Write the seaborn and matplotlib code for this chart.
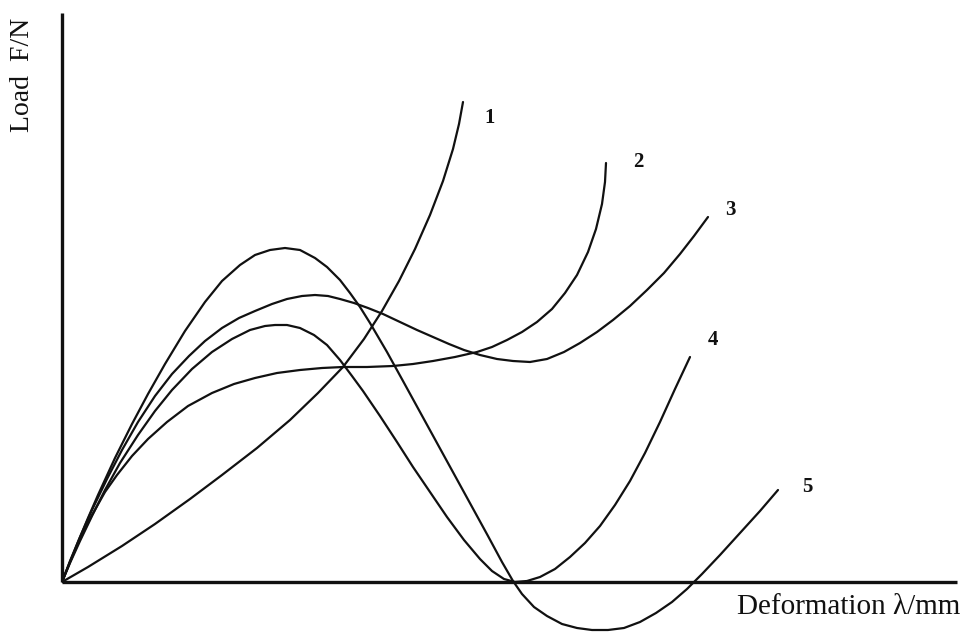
import matplotlib
matplotlib.use("Agg")
import matplotlib.pyplot as plt
import seaborn as sns
import pandas as pd

# Load-deformation curves (deformation in mm, load in N, schematic units)
c1_x = [0, 0.26, 0.60, 0.93, 1.28, 1.60, 1.95, 2.28, 2.56, 2.81, 3.02, 3.20, 3.37, 3.53, 3.68, 3.81, 3.91, 3.97, 4.01]
c1_y = [0, 0.15, 0.36, 0.58, 0.83, 1.07, 1.34, 1.62, 1.89, 2.15, 2.43, 2.71, 3.01, 3.33, 3.67, 4.01, 4.33, 4.58, 4.80]

c2_x = [0, 0.08, 0.18, 0.30, 0.43, 0.55, 0.70, 0.86, 1.05, 1.26, 1.50, 1.72, 1.93, 2.15, 2.38, 2.60, 2.81, 3.05,
        3.31, 3.51, 3.71, 3.93, 4.15, 4.30, 4.45, 4.60, 4.75, 4.90, 5.03, 5.15, 5.26, 5.34, 5.40, 5.43, 5.44]
c2_y = [0, 0.20, 0.43, 0.67, 0.90, 1.07, 1.26, 1.43, 1.60, 1.76, 1.89, 1.98, 2.04, 2.09, 2.12, 2.14, 2.15, 2.15,
        2.16, 2.18, 2.21, 2.25, 2.30, 2.35, 2.42, 2.50, 2.60, 2.73, 2.89, 3.07, 3.30, 3.53, 3.78, 4.00, 4.19]

c3_x = [0, 0.08, 0.18, 0.30, 0.45, 0.60, 0.76, 0.93, 1.10, 1.27, 1.43, 1.60, 1.77, 1.93, 2.10, 2.25, 2.40, 2.53,
        2.66, 2.78, 2.92, 3.06, 3.21, 3.38, 3.55, 3.71, 3.87, 4.02, 4.18, 4.35, 4.51, 4.68, 4.85, 5.02, 5.18,
        5.35, 5.51, 5.68, 5.85, 6.02, 6.18, 6.32, 6.46]
c3_y = [0, 0.21, 0.45, 0.72, 1.03, 1.32, 1.60, 1.86, 2.08, 2.26, 2.41, 2.54, 2.64, 2.71, 2.78, 2.83, 2.86, 2.87,
        2.86, 2.83, 2.79, 2.74, 2.68, 2.60, 2.52, 2.45, 2.38, 2.32, 2.27, 2.23, 2.21, 2.20, 2.23, 2.30, 2.39,
        2.50, 2.62, 2.76, 2.92, 3.09, 3.28, 3.46, 3.65]

c4_x = [0, 0.08, 0.18, 0.30, 0.43, 0.58, 0.76, 0.93, 1.10, 1.30, 1.50, 1.70, 1.88, 2.03, 2.13, 2.25, 2.38, 2.52,
        2.65, 2.78, 2.90, 3.01, 3.18, 3.35, 3.51, 3.68, 3.85, 4.02, 4.18, 4.30, 4.42, 4.53, 4.65, 4.78, 4.93,
        5.08, 5.23, 5.38, 5.53, 5.68, 5.83, 5.98, 6.13, 6.28]
c4_y = [0, 0.19, 0.41, 0.66, 0.92, 1.19, 1.47, 1.71, 1.92, 2.13, 2.30, 2.43, 2.52, 2.56, 2.57, 2.57, 2.54, 2.47,
        2.37, 2.22, 2.06, 1.91, 1.66, 1.40, 1.15, 0.90, 0.65, 0.42, 0.23, 0.11, 0.03, 0.0, 0.01, 0.05, 0.13,
        0.25, 0.39, 0.56, 0.77, 1.01, 1.29, 1.60, 1.93, 2.25]

c5_x = [0, 0.08, 0.16, 0.26, 0.36, 0.53, 0.70, 0.86, 1.03, 1.23, 1.43, 1.60, 1.78, 1.93, 2.08, 2.23, 2.38, 2.53,
        2.65, 2.78, 2.88, 2.98, 3.08, 3.25, 3.41, 3.58, 3.75, 3.92, 4.09, 4.26, 4.40, 4.51, 4.60, 4.72, 4.85,
        5.00, 5.15, 5.30, 5.46, 5.62, 5.78, 5.94, 6.10, 6.25, 6.40, 6.58, 6.78, 6.98, 7.16]
c5_y = [0, 0.20, 0.40, 0.64, 0.87, 1.24, 1.58, 1.88, 2.18, 2.51, 2.80, 3.01, 3.17, 3.27, 3.32, 3.34, 3.32, 3.24,
        3.15, 3.02, 2.89, 2.75, 2.59, 2.30, 2.01, 1.70, 1.39, 1.08, 0.77, 0.46, 0.20, 0.01, -0.12, -0.25, -0.34,
        -0.42, -0.46, -0.48, -0.48, -0.46, -0.40, -0.31, -0.20, -0.07, 0.08, 0.27, 0.49, 0.71, 0.92]

curve_names = ["1", "2", "3", "4", "5"]
# where each curve number is written
label_x = [4.28, 5.76, 6.68, 6.51, 7.45]
label_y = [4.64, 4.20, 3.72, 2.42, 0.95]

frames = []
for name, xs, ys in zip(curve_names, [c1_x, c2_x, c3_x, c4_x, c5_x], [c1_y, c2_y, c3_y, c4_y, c5_y]):
    frames.append(pd.DataFrame({"deformation": xs, "load": ys, "curve": name}))
df = pd.concat(frames, ignore_index=True)

sns.set_theme(style="white")
plt.rcParams["font.family"] = ["Liberation Serif", "DejaVu Serif"]

W, H = 967, 632
fig = plt.figure(figsize=(W / 100, H / 100), dpi=100)
ax = fig.add_axes([62 / W, 0, (957 - 62) / W, (H - 13) / H])

sns.lineplot(data=df, x="deformation", y="load", hue="curve", units="curve",
             estimator=None, sort=False, palette=["#111111"] * 5,
             linewidth=1.6, legend=False, ax=ax)
for line in ax.get_lines():
    line.set_solid_joinstyle("round")

ax.set_xlim(0, 8.95)
ax.set_ylim(-0.50, 5.69)
ax.set_xticks([])
ax.set_yticks([])
ax.set_xlabel("")
ax.set_ylabel("")

for side in ["top", "right"]:
    ax.spines[side].set_visible(False)
ax.spines["bottom"].set_position(("data", 0))
ax.spines["left"].set_position(("data", 0))
ax.spines["left"].set_bounds(0, 5.69)
for side in ["bottom", "left"]:
    ax.spines[side].set_color("#111111")
    ax.spines[side].set_linewidth(2.4)
    ax.spines[side].set_capstyle("butt")

for name, lx, ly in zip(curve_names, label_x, label_y):
    ax.text(lx, ly, name, ha="center", va="center", fontsize=15,
            fontweight="bold", color="#111111")

fig.text(23 / W, 1 - 75 / H, "Load  F/N", rotation=90, ha="center", va="center",
         fontsize=20, color="#111111")
fig.text(960 / W, 1 - 607 / H, "Deformation λ/mm", ha="right", va="center",
         fontsize=21, color="#111111")

fig.savefig("out.png", dpi=100, facecolor="white")
